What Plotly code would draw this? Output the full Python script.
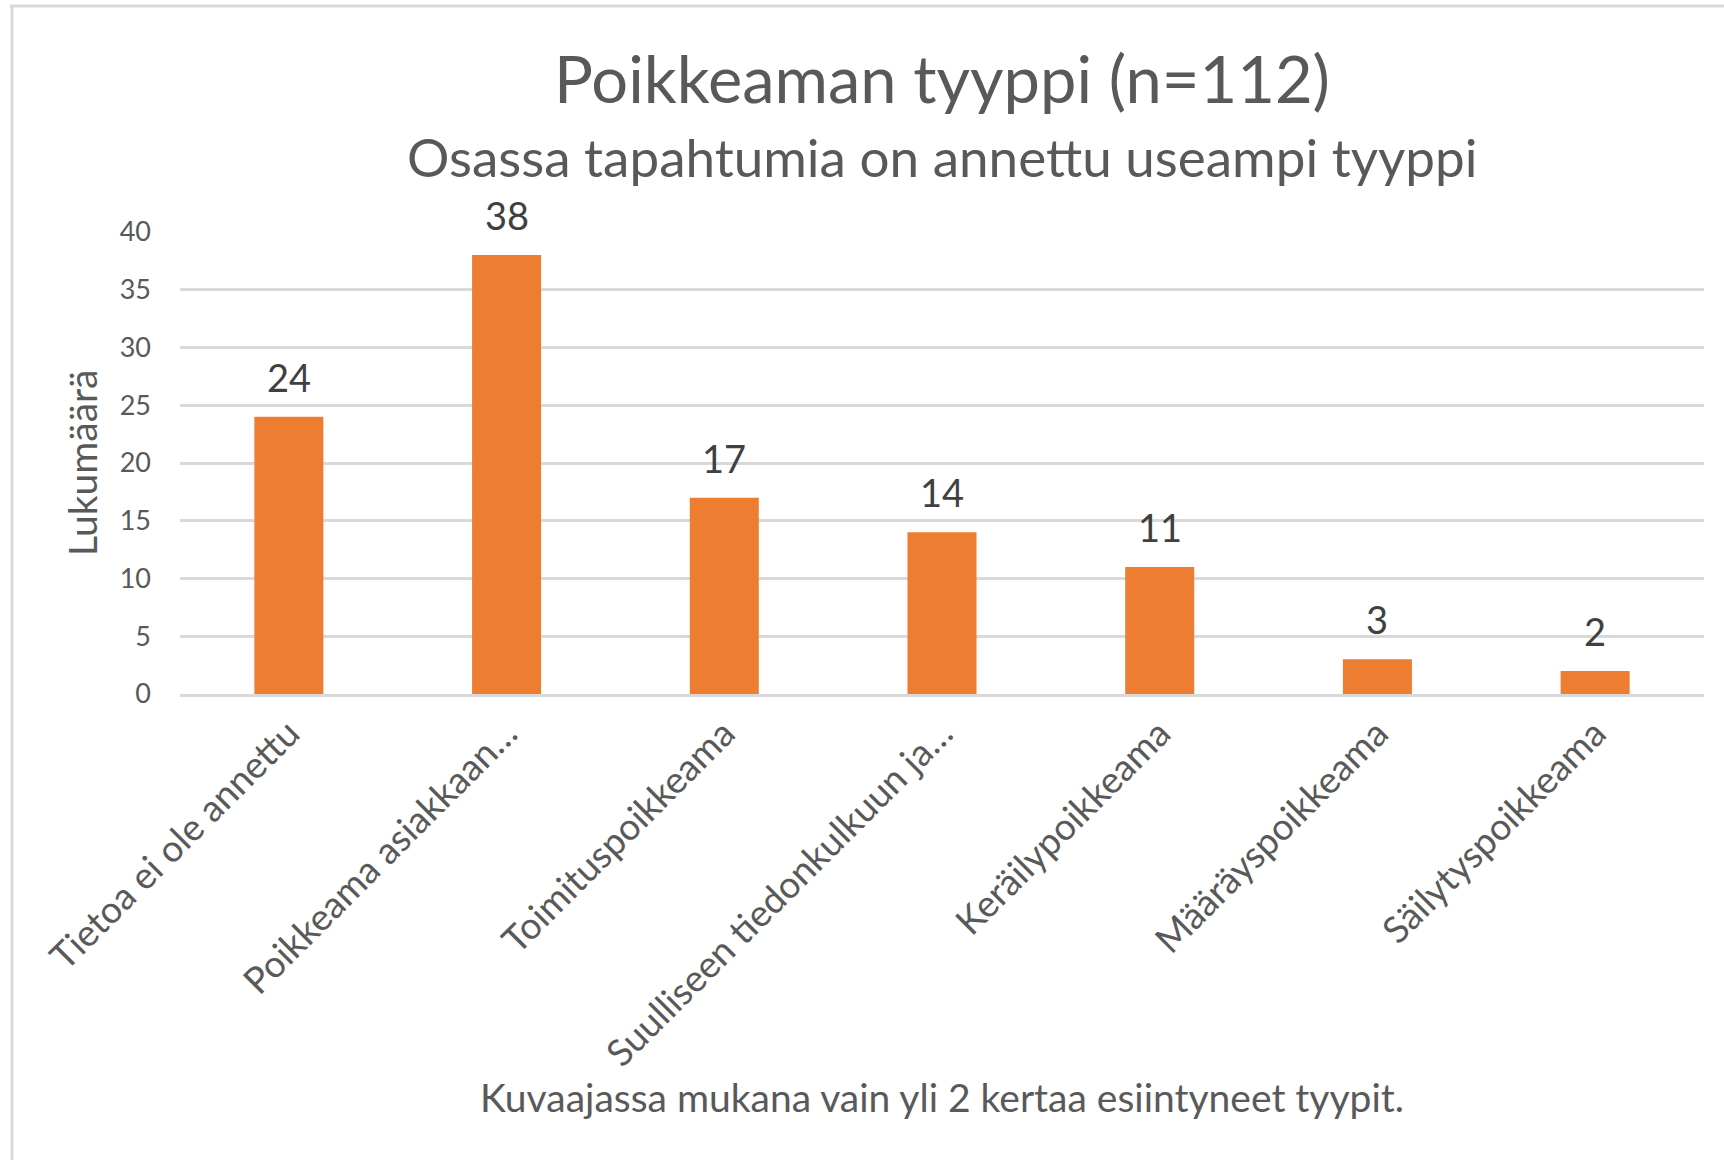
import plotly.graph_objects as go

categories = [
    "Tietoa ei ole annettu",
    "Poikkeama asiakkaan…",
    "Toimituspoikkeama",
    "Suulliseen tiedonkulkuun ja…",
    "Keräilypoikkeama",
    "Määräyspoikkeama",
    "Säilytyspoikkeama",
]
values = [24, 38, 17, 14, 11, 3, 2]
y_ticks = [0, 5, 10, 15, 20, 25, 30, 35, 40]

title_text = "Poikkeaman tyyppi (n=112)"
subtitle_text = "Osassa tapahtumia on annettu useampi tyyppi"
y_title = "Lukumäärä"
footer_text = "Kuvaajassa mukana vain yli 2 kertaa esiintyneet tyypit."

W, H = 1724, 1160
PL, PR, PT, PB = 180, 1704, 232, 694  # plot area in pixels
L, R, T, B = PL, W - PR, PT, H - PB
pw, ph = PR - PL, PB - PT

def px_x(x):
    return (x - PL) / pw

def px_y(y):
    return (PB - y) / ph

FONT = "Lato"
GREY = "#595959"

fig = go.Figure(
    go.Bar(
        x=categories,
        y=values,
        marker=dict(color="#ED7D31", line=dict(width=0)),
        hoverinfo="x+y",
    )
)

annotations = []
for c, v in zip(categories, values):
    annotations.append(dict(
        x=c, y=v, xref="x", yref="y", text=str(v), showarrow=False,
        yanchor="bottom", yshift=15,
        font=dict(family=FONT, size=38, color="#404040"),
    ))

annotations += [
    dict(text=title_text, x=0.5, y=px_y(78), xref="paper", yref="paper",
         showarrow=False, xanchor="center", yanchor="middle",
         font=dict(family=FONT, size=65, color=GREY)),
    dict(text=subtitle_text, x=0.5, y=px_y(157), xref="paper", yref="paper",
         showarrow=False, xanchor="center", yanchor="middle",
         font=dict(family=FONT, size=53, color=GREY)),
    dict(text=footer_text, x=0.5, y=px_y(1097), xref="paper", yref="paper",
         showarrow=False, xanchor="center", yanchor="middle",
         font=dict(family=FONT, size=39, color=GREY)),
    dict(text=y_title, x=px_x(82), y=0.5, xref="paper", yref="paper",
         showarrow=False, xanchor="center", yanchor="middle", textangle=-90,
         font=dict(family=FONT, size=39, color=GREY)),
]

shapes = [
    dict(type="line", xref="paper", yref="paper",
         x0=px_x(12), x1=px_x(12), y0=px_y(5), y1=px_y(1200),
         line=dict(color="#D9D9D9", width=3)),
    dict(type="line", xref="paper", yref="paper",
         x0=px_x(10), x1=px_x(1760), y0=px_y(6), y1=px_y(6),
         line=dict(color="#D9D9D9", width=3)),
]

fig.update_layout(
    width=W, height=H,
    margin=dict(l=L, r=R, t=T, b=B, autoexpand=False),
    paper_bgcolor="white", plot_bgcolor="white",
    showlegend=False,
    bargap=0.683,
    annotations=annotations,
    shapes=shapes,
    font=dict(family=FONT, color=GREY),
)
fig.update_xaxes(
    tickangle=-45,
    tickfont=dict(family=FONT, size=37, color=GREY),
    showgrid=False, showline=True, linecolor="#D9D9D9", linewidth=3,
    ticks="", fixedrange=True,
)
fig.update_yaxes(
    range=[0, 40], tickvals=y_ticks,
    tickfont=dict(family=FONT, size=27, color=GREY),
    showgrid=True, gridcolor="#D9D9D9", gridwidth=3,
    zeroline=False, showline=False, ticks="", ticklabelstandoff=28,
    fixedrange=True,
)

fig.write_html(
    "out.html",
    config={"displayModeBar": False},
    post_script="document.body.style.margin='0';document.body.style.overflow='hidden';",
)
